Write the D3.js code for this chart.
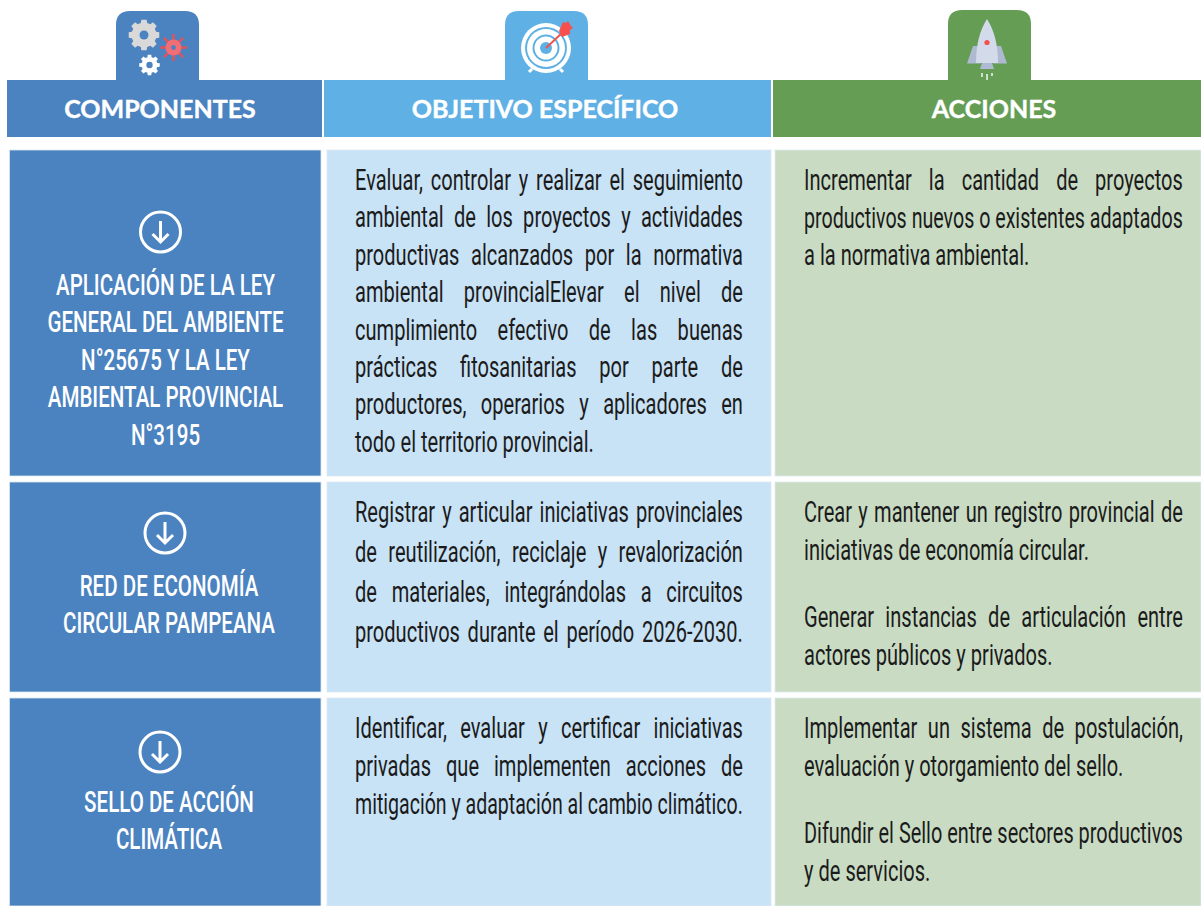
<!DOCTYPE html>
<html>
<head>
<meta charset="utf-8">
<script src="https://cdn.jsdelivr.net/npm/d3@7"></script>
<style>
html, body { margin: 0; padding: 0; background: #fff; }
svg { display: block; }
</style>
</head>
<body>
<div class="container"></div>
<script>
const headers = ['COMPONENTES', 'OBJETIVO ESPECÍFICO', 'ACCIONES'];
const rowNames = ['ley', 'red', 'sello'];

const componentLines = [
    ['APLICACIÓN DE LA LEY', 'GENERAL DEL AMBIENTE', 'N°25675 Y LA LEY', 'AMBIENTAL PROVINCIAL', 'N°3195'],
    ['RED DE ECONOMÍA', 'CIRCULAR PAMPEANA'],
    ['SELLO DE ACCIÓN', 'CLIMÁTICA']
];

const objectiveLines = [
    ['Evaluar, controlar y realizar el seguimiento', 'ambiental de los proyectos y actividades', 'productivas alcanzados por la normativa', 'ambiental provincialElevar el nivel de', 'cumplimiento efectivo de las buenas', 'prácticas fitosanitarias por parte de', 'productores, operarios y aplicadores en', 'todo el territorio provincial.'],
    ['Registrar y articular iniciativas provinciales', 'de reutilización, reciclaje y revalorización', 'de materiales, integrándolas a circuitos', 'productivos durante el período 2026-2030.'],
    ['Identificar, evaluar y certificar iniciativas', 'privadas que implementen acciones de', 'mitigación y adaptación al cambio climático.']
];

// each action is a paragraph, its last line is not justified
const actionParagraphs = [
    [['Incrementar la cantidad de proyectos', 'productivos nuevos o existentes adaptados', 'a la normativa ambiental.']],
    [['Crear y mantener un registro provincial de', 'iniciativas de economía circular.'], ['Generar instancias de articulación entre', 'actores públicos y privados.']],
    [['Implementar un sistema de postulación,', 'evaluación y otorgamiento del sello.'], ['Difundir el Sello entre sectores productivos', 'y de servicios.']]
];

var drawChart = function () {
    const WIDTH = 1201;
    const HEIGHT = 906;
    const TEXT_FONT = 'Roboto, sans-serif';
    const TEXT_SCALE = 0.68;
    const FONT_SIZE = 29.5;
    const COMP_SCALE = 0.685;
    const COMP_SIZE = 30;

    const headColors = ['#4b82c0', '#5fb0e5', '#659d55'];
    const cellColors = ['#4b82c0', '#c8e2f6', '#c9dcc3'];

    const headX = d3.scaleOrdinal().domain(headers).range([7, 324, 773]);
    const headW = d3.scaleOrdinal().domain(headers).range([315, 447, 428]);
    const cellX = [9.5, 327, 775];
    const cellW = [311.5, 444, 426];

    const rowY = d3.scaleOrdinal().domain(rowNames).range([150, 482, 698]);
    const rowH = d3.scaleOrdinal().domain(rowNames).range([326, 210, 208]);
    const objStep = d3.scaleOrdinal().domain(rowNames).range([37.4, 40, 37.8]);

    var svg = d3.select('.container')
        .append('svg')
        .attr('width', WIDTH)
        .attr('height', HEIGHT);

    // header tabs
    var tabs = [[116, 199, 11], [505, 588, 11], [948, 1031, 10]];
    tabs.forEach(function (t, i) {
        svg.append('path')
            .attr('d', 'M' + t[0] + ',85V' + (t[2] + 14) + 'Q' + t[0] + ',' + t[2] + ' ' + (t[0] + 14) + ',' + t[2] +
                'H' + (t[1] - 14) + 'Q' + t[1] + ',' + t[2] + ' ' + t[1] + ',' + (t[2] + 14) + 'V85Z')
            .style('fill', headColors[i]);
    });

    svg.selectAll('rect.head')
        .data(headers)
        .join('rect')
        .attr('class', 'head')
        .attr('x', d => headX(d))
        .attr('y', 80)
        .attr('width', d => headW(d))
        .attr('height', 57)
        .style('fill', (d, i) => headColors[i]);

    svg.selectAll('text.head')
        .data(headers)
        .join('text')
        .attr('class', 'head')
        .attr('x', (d, i) => [160, 545, 994][i])
        .attr('y', 118)
        .attr('text-anchor', 'middle')
        .style('font-family', 'Lato, sans-serif')
        .style('font-weight', 700)
        .style('font-size', '25px')
        .style('fill', '#fff')
        .style('stroke', '#fff')
        .style('stroke-width', 0.4)
        .text(d => d);

    drawGears(svg);
    drawTarget(svg);
    drawRocket(svg);

    // cells, with the faint lighter edge the reference has
    rowNames.forEach(function (row) {
        cellX.forEach(function (x, c) {
            svg.append('rect')
                .attr('x', x)
                .attr('y', rowY(row))
                .attr('width', cellW[c])
                .attr('height', rowH(row))
                .style('fill', cellColors[c])
                .style('stroke', '#dbe8f3')
                .style('stroke-width', 0.8);
        });
    });

    // first column, arrow icon + centered labels
    var arrowPos = [[160.5, 232], [165, 533], [160, 752]];
    var compCenter = [165.5, 169, 169];
    var compTop = [295, 596, 812];
    componentLines.forEach(function (lines, r) {
        drawArrow(svg, arrowPos[r][0], arrowPos[r][1]);
        lines.forEach(function (line, i) {
            svg.append('text')
                .attr('transform', 'translate(' + compCenter[r] + ',' + (compTop[r] + i * 37.4) + ') scale(' + COMP_SCALE + ',1)')
                .attr('text-anchor', 'middle')
                .style('font-family', TEXT_FONT)
                .style('font-weight', 500)
                .style('font-size', COMP_SIZE + 'px')
                .style('fill', '#fff')
                .text(line);
        });
    });

    // long lines are squeezed a little more so that the word gaps never collapse
    var justified = function (line, x, y, width, stretch) {
        var t = svg.append('text')
            .style('font-family', TEXT_FONT)
            .style('font-size', FONT_SIZE + 'px')
            .style('fill', '#1b1b1b')
            .text(line);
        var natural = t.node().getComputedTextLength();
        var scale = Math.min(TEXT_SCALE, width / natural);
        t.attr('transform', 'translate(' + x + ',' + y + ') scale(' + scale + ',1)');
        if (stretch) {
            var gaps = line.split(' ').length - 1;
            t.style('word-spacing', ((width / scale - natural) / gaps) + 'px');
        }
    };

    // second column
    var firstBase = [190, 522, 738];
    objectiveLines.forEach(function (lines, r) {
        lines.forEach(function (line, i) {
            var last = i === lines.length - 1 && r === 0;
            justified(line, 355, firstBase[r] + i * objStep(rowNames[r]), 388, !last);
        });
    });

    // third column
    actionParagraphs.forEach(function (paras, r) {
        var y = firstBase[r];
        paras.forEach(function (lines) {
            lines.forEach(function (line, i) {
                justified(line, 804, y, 379, i < lines.length - 1);
                y += 37.6;
            });
            y += 30;
        });
    });
};

function gearPath(r, teeth, toothH) {
    var pts = [];
    var step = Math.PI * 2 / teeth;
    for (var i = 0; i < teeth; i++) {
        var a = i * step;
        [[-0.3, r], [-0.2, r + toothH], [0.2, r + toothH], [0.3, r]].forEach(function (p) {
            var an = a + p[0] * step * 1.1;
            pts.push([p[1] * Math.cos(an), p[1] * Math.sin(an)]);
        });
    }
    return d3.line().curve(d3.curveLinearClosed)(pts);
}

function drawGears(svg) {
    var big = svg.append('g').attr('transform', 'translate(144,35)');
    big.append('path').attr('d', gearPath(12.5, 8, 3)).style('fill', '#d9d9d9');
    big.append('circle').attr('r', 4.5).style('fill', '#4b82c0');

    var red = svg.append('g').attr('transform', 'translate(173.5,47.5)');
    d3.range(8).forEach(function (i) {
        var a = i * Math.PI / 4;
        red.append('line')
            .attr('x2', 13.5 * Math.cos(a))
            .attr('y2', 13.5 * Math.sin(a))
            .style('stroke', '#d9565f')
            .style('stroke-width', 2.6);
    });
    red.append('circle').attr('r', 8).style('fill', '#f26d75');
    red.append('circle').attr('r', 2.4).style('fill', '#4b82c0');

    var small = svg.append('g').attr('transform', 'translate(149.5,65)');
    small.append('path').attr('d', gearPath(8, 8, 2.4)).style('fill', '#fff');
    small.append('circle').attr('r', 3.2).style('fill', '#4b82c0');
}

function drawTarget(svg) {
    var g = svg.append('g').attr('transform', 'translate(546,48)');
    [[25, '#fff'], [21, '#5fb0e5'], [19, '#fff'], [13.5, '#5fb0e5'], [11.5, '#fff'], [6, '#5fb0e5']].forEach(function (d) {
        g.append('circle').attr('r', d[0]).style('fill', d[1]);
    });
    g.append('line').attr('x1', -17).attr('y1', 24).attr('x2', -14).attr('y2', 21)
        .style('stroke', '#fff').style('stroke-width', 3);
    g.append('line').attr('x1', 17).attr('y1', 24).attr('x2', 14).attr('y2', 21)
        .style('stroke', '#fff').style('stroke-width', 3);
    g.append('line').attr('x1', 0).attr('y1', 0).attr('x2', 16).attr('y2', -15)
        .style('stroke', '#ef5350').style('stroke-width', 2);
    g.append('path').attr('d', 'M13,-17L17,-26L20,-25L22,-27L25,-22L27,-20L24,-18L24,-14L16,-11Z')
        .style('fill', '#f5504e');
}

function drawRocket(svg) {
    var g = svg.append('g').attr('transform', 'translate(987,0)');
    g.append('path').attr('d', 'M-8,46L-14,46L-20,63.500L-6,63.500Z').style('fill', '#aeb9d2');
    g.append('path').attr('d', 'M8,46L14,46L20,63.500L6,63.500Z').style('fill', '#aeb9d2');
    g.append('path').attr('d', 'M-5,63L-7,69L7,69L5,63Z').style('fill', '#aeb9d2');
    g.append('path').attr('d', 'M0,19Q-11,36 -11,63L11,63Q11,36 0,19Z').style('fill', '#d3daea');
    g.append('circle').attr('cy', 42.500).attr('r', 2.6).style('fill', '#f5504e');
    [[-5, 73, 4], [0, 74, 6], [5, 73, 3]].forEach(function (d) {
        g.append('rect').attr('x', d[0] - 1).attr('y', d[1]).attr('width', 2).attr('height', d[2])
            .style('fill', '#cfe0cf');
    });
}

function drawArrow(svg, x, y) {
    var g = svg.append('g').attr('transform', 'translate(' + x + ',' + y + ')');
    g.append('circle').attr('r', 20).style('fill', 'none').style('stroke', '#fff').style('stroke-width', 3);
    g.append('path').attr('d', 'M0,-11V10M-8,2L0,10L8,2')
        .style('fill', 'none').style('stroke', '#fff').style('stroke-width', 3);
}

window.onload = drawChart;
</script>
</body>
</html>
